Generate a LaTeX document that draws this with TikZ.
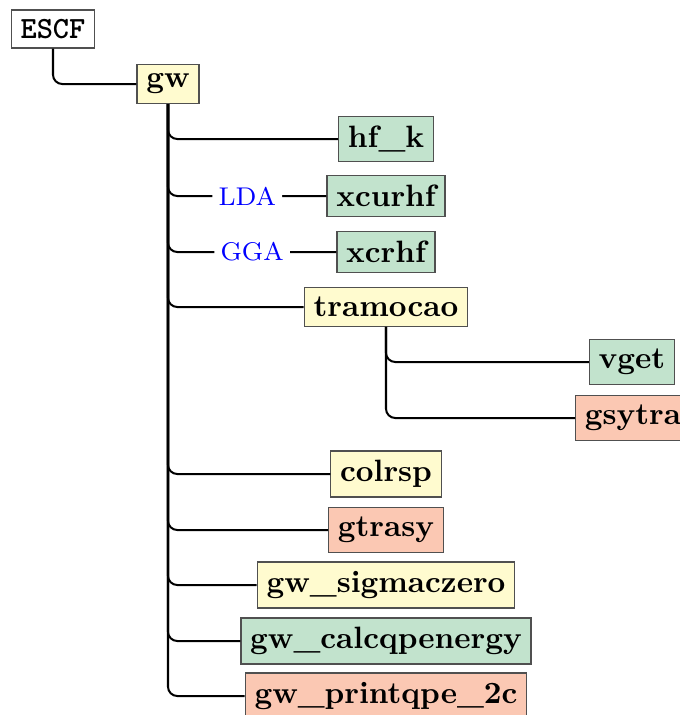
\documentclass[tikz,border=0pt]{standalone}
\usepackage{fontspec}
\definecolor{cyel}{HTML}{FFFBCF}
\definecolor{cgrn}{HTML}{C2E3CD}
\definecolor{csal}{HTML}{FBC8B3}
\definecolor{cbord}{HTML}{505050}
\begin{document}
\begin{tikzpicture}[x=0.324pt,y=-0.324pt,
  box/.style={draw=cbord,line width=0.4pt,font=\bfseries,inner sep=3pt},
  yel/.style={box,fill=cyel},
  grn/.style={box,fill=cgrn},
  sal/.style={box,fill=csal},
  root/.style={box,fill=white,font=\ttfamily\bfseries},
  conn/.style={line width=0.65pt,rounded corners=3pt},
  lab/.style={font=\fontsize{8.3}{10}\selectfont,text=blue,fill=white,inner sep=2pt}]
\useasboundingbox (0,0) rectangle (680,715);
\node[root] (escf) at (53,29) {ESCF};
\node[yel] (gw) at (168,84) {gw};
\node[grn] (hfk) at (386,139) {hf\_k};
\node[grn] (xcurhf) at (386,196) {xcurhf};
\node[grn] (xcrhf) at (386,252) {xcrhf};
\node[yel] (tramocao) at (386,307) {tramocao};
\node[grn] (vget) at (632,362) {vget};
\node[sal] (gsytra) at (633,418) {gsytra};
\node[yel] (colrsp) at (386,474) {colrsp};
\node[sal] (gtrasy) at (386,530) {gtrasy};
\node[yel] (sigma) at (386,585) {gw\_sigmaczero};
\node[grn] (calc) at (386,641) {gw\_calcqpenergy};
\node[sal] (print) at (386,696) {gw\_printqpe\_2c};
\draw[conn] (escf.south) |- (gw.west);
\draw[conn] (gw.south) |- (hfk.west);
\draw[conn] (gw.south) |- node[lab,pos=0.75] {LDA} (xcurhf.west);
\draw[conn] (gw.south) |- node[lab,pos=0.75] {GGA} (xcrhf.west);
\draw[conn] (gw.south) |- (tramocao.west);
\draw[conn] (tramocao.south) |- (vget.west);
\draw[conn] (tramocao.south) |- (gsytra.west);
\draw[conn] (gw.south) |- (colrsp.west);
\draw[conn] (gw.south) |- (gtrasy.west);
\draw[conn] (gw.south) |- (sigma.west);
\draw[conn] (gw.south) |- (calc.west);
\draw[conn] (gw.south) |- (print.west);
\end{tikzpicture}
\end{document}
